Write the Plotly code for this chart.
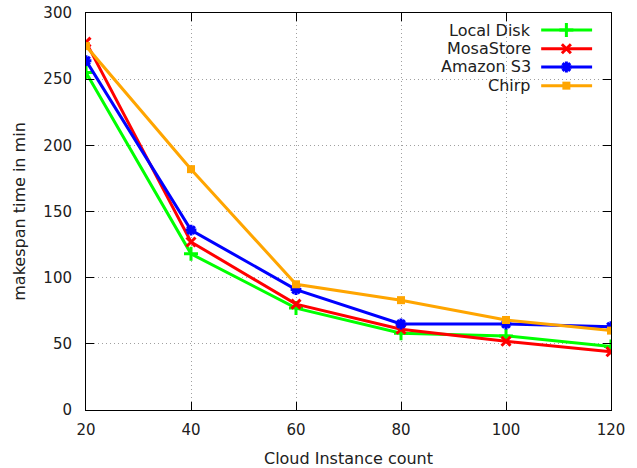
import plotly.graph_objects as go

# Makespan (minutes) versus number of cloud instances for each storage backend
instances = [20, 40, 60, 80, 100, 120]
local_disk = [255, 118, 77, 58, 56, 48]
mosastore = [278, 127, 80, 61, 52, 44]
amazon_s3 = [264, 136, 91, 65, 65, 63]
chirp = [275, 182, 95, 83, 68, 60]

series_names = ["Local Disk", "MosaStore", "Amazon S3", "Chirp"]
series_values = [local_disk, mosastore, amazon_s3, chirp]
colors = ["#00ff00", "#ff0000", "#0000ff", "#ffa500"]
symbols = ["cross-thin-open", "x-thin-open", "asterisk-open", "square"]
marker_sizes = [10, 9, 9, 8]

FONT = "DejaVu Sans"
TEXT_COLOR = "#202020"

fig = go.Figure()


def marker_style(i):
    if symbols[i] == "square":
        return dict(symbol="square", size=marker_sizes[i], color=colors[i])
    return dict(symbol=symbols[i], size=marker_sizes[i], color=colors[i],
                line=dict(color=colors[i], width=3))


for i, (name, vals) in enumerate(zip(series_names, series_values)):
    fig.add_trace(go.Scatter(
        x=instances, y=vals, name=name, mode="lines+markers",
        line=dict(color=colors[i], width=3),
        marker=marker_style(i), showlegend=False,
    ))

# Key in the top-right corner, gnuplot style: label on the left, sample on the right
key_x0, key_x1, key_mid, key_text_x = 0.867, 0.964, 0.915, 0.852
key_rows = [0.957, 0.910, 0.864, 0.817]
for i, name in enumerate(series_names):
    yk = key_rows[i]
    fig.add_trace(go.Scatter(
        x=[key_x0, key_x1], y=[yk, yk], mode="lines",
        line=dict(color=colors[i], width=3), xaxis="x2", yaxis="y2",
        showlegend=False, hoverinfo="skip",
    ))
    fig.add_trace(go.Scatter(
        x=[key_mid], y=[yk], mode="markers", marker=marker_style(i),
        xaxis="x2", yaxis="y2", showlegend=False, hoverinfo="skip",
    ))
    fig.add_annotation(
        x=key_text_x, y=yk, xref="x2", yref="y2", text=name,
        showarrow=False, xanchor="right", yanchor="middle",
        font=dict(family=FONT, size=16, color=TEXT_COLOR),
    )

axis_common = dict(
    showline=True, linecolor="black", linewidth=1, mirror="ticks",
    ticks="inside", ticklen=8, tickcolor="black", tickwidth=1,
    showgrid=True, gridcolor="#a0a0a0", griddash="1px,3px", gridwidth=1,
    zeroline=False, automargin=False,
    tickfont=dict(family=FONT, size=15, color=TEXT_COLOR),
)

fig.update_layout(
    width=637, height=468,
    margin=dict(l=86, r=26, t=13, b=58),
    paper_bgcolor="white", plot_bgcolor="white",
    xaxis=dict(range=[20, 120], dtick=20, tick0=20, ticklabelstandoff=6,
               title=dict(text="Cloud Instance count", standoff=16,
                          font=dict(family=FONT, size=16, color=TEXT_COLOR)),
               **axis_common),
    yaxis=dict(range=[0, 300], dtick=50, tick0=0, ticklabelstandoff=10,
               title=dict(text="makespan time in min", standoff=13,
                          font=dict(family=FONT, size=16, color=TEXT_COLOR)),
               **axis_common),
    xaxis2=dict(overlaying="x", range=[0, 1], visible=False, anchor="y2"),
    yaxis2=dict(overlaying="y", range=[0, 1], visible=False, anchor="x2"),
)

fig.write_html("out.html")
